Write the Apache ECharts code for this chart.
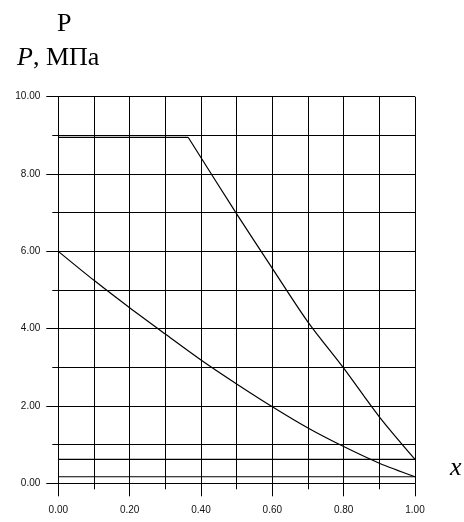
<!DOCTYPE html>
<html>
<head>
<meta charset="utf-8">
<script src="https://cdn.jsdelivr.net/npm/echarts@6/dist/echarts.min.js"></script>
<style>
html,body{margin:0;padding:0;background:#fff;}
#c{width:464px;height:522px;}
</style>
</head>
<body>
<div id="c"></div>
<script>
// Data
const plateauX = [0, 0.364];
const plateauY = [8.95, 8.95];
const upperX = [0.364, 0.5, 0.6, 0.7, 0.8, 0.9, 1.0];
const upperY = [8.95, 6.97, 5.56, 4.17, 2.98, 1.72, 0.62];
const lowerX = [0, 0.1, 0.2, 0.3, 0.4, 0.5, 0.6, 0.7, 0.8, 0.9, 1.0];
const lowerY = [6.0, 5.25, 4.54, 3.86, 3.19, 2.57, 1.98, 1.43, 0.95, 0.52, 0.17];
const refLevels = [0.62, 0.17];
const xRange = [0, 1];
const yRange = [0, 10];
const titleText = 'Р';
const yName = ['P', ', МПа'];
const xName = 'x';

const zip = (xs, ys) => xs.map((x, i) => [x, ys[i]]);
const lineStyle = {color: '#000', width: 1.2};

const series = [
  {type: 'line', data: zip(plateauX, plateauY), showSymbol: false, lineStyle, silent: true},
  {type: 'line', data: zip(upperX, upperY), showSymbol: false, smooth: 0.3, lineStyle, silent: true},
  {type: 'line', data: zip(lowerX, lowerY), showSymbol: false, smooth: 0.3, lineStyle, silent: true}
];
refLevels.forEach(v => series.push({
  type: 'line', data: [[xRange[0], v], [xRange[1], v]], showSymbol: false,
  lineStyle: {color: '#000', width: 1.2}, silent: true
}));

const chart = echarts.init(document.getElementById('c'), null, {renderer: 'canvas'});
const gridLine = {show: true, lineStyle: {color: '#000', width: 1}};
chart.setOption({
  animation: false,
  backgroundColor: '#fff',
  grid: {left: 58.3, right: 49, top: 96.7, bottom: 38.7, containLabel: false},
  xAxis: {
    type: 'value', min: xRange[0], max: xRange[1], interval: 0.2,
    axisLine: {show: true, onZero: false, lineStyle: {color: '#000', width: 1}},
    axisTick: {show: true, length: 13, lineStyle: {color: '#000'}},
    minorTick: {show: true, splitNumber: 2, length: 6, lineStyle: {color: '#000'}},
    splitLine: gridLine,
    minorSplitLine: gridLine,
    axisLabel: {formatter: v => v.toFixed(2), fontFamily: 'Liberation Sans', fontSize: 10, color: '#111', margin: 22}
  },
  yAxis: {
    type: 'value', min: yRange[0], max: yRange[1], interval: 2,
    axisLine: {show: true, onZero: false, lineStyle: {color: '#000', width: 1}},
    axisTick: {show: true, length: 12, lineStyle: {color: '#000'}},
    minorTick: {show: true, splitNumber: 2, length: 6, lineStyle: {color: '#000'}},
    splitLine: gridLine,
    minorSplitLine: gridLine,
    axisLabel: {formatter: v => v.toFixed(2), fontFamily: 'Liberation Sans', fontSize: 10, color: '#111', margin: 18}
  },
  graphic: [
    {type: 'text', left: 57, top: 11, style: {text: titleText, font: '26px "Liberation Serif"', fill: '#000'}},
    {type: 'text', left: 17, top: 45, style: {
      text: '{i|' + yName[0] + '}{n|' + yName[1] + '}',
      rich: {
        i: {font: 'italic 26px "Liberation Serif"', fill: '#000'},
        n: {font: '26px "Liberation Serif"', fill: '#000'}
      }
    }},
    {type: 'text', left: 450, top: 455, style: {text: xName, font: 'italic 26px "Liberation Serif"', fill: '#000'}}
  ],
  series
});
</script>
</body>
</html>
